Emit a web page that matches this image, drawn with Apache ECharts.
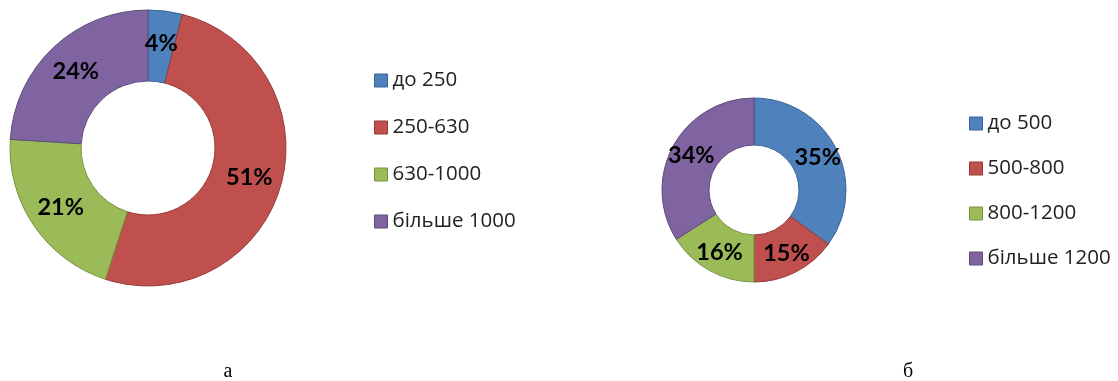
<!DOCTYPE html>
<html><head><meta charset="utf-8">
<script src="https://cdn.jsdelivr.net/npm/echarts@6/dist/echarts.min.js"></script>
<style>html,body{margin:0;padding:0;background:#fff}#c{width:1118px;height:381px}</style>
</head><body><div id="c"></div>
<script>
const catsA = ['до 250', '250-630', '630-1000', 'більше 1000'];
const valsA = [4, 51, 21, 24];
const catsB = ['до 500', '500-800', '800-1200', 'більше 1200'];
const valsB = [35, 15, 16, 34];
const captions = ['а', 'б'];
const fills = ['#4F81BD', '#C0504D', '#9BBB59', '#8064A2'];
const borders = ['#3A6496', '#943B39', '#76923F', '#5E4A7A'];

function mkData(cats, vals) {
  return cats.map((n, i) => ({name: n, value: vals[i],
    itemStyle: {color: fills[i], borderColor: borders[i], borderWidth: 1}}));
}
function legend(cats, left, top, gap) {
  return {orient: 'vertical', left: left, top: top, data: cats, icon: 'rect',
    itemWidth: 13, itemHeight: 13, itemGap: gap,
    itemStyle: {borderWidth: 1},
    textStyle: {fontFamily: 'Open Sans', fontSize: 20.5, color: '#222', lineHeight: 20, padding: [0,0,0,0]}};
}
const labelCfg = {show: true, position: 'inside', formatter: '{c}%',
  fontFamily: 'Lato', fontWeight: 'bold', fontSize: 23.5, color: '#000'};
const chart = echarts.init(document.getElementById('c'));
chart.setOption({
  animation: false,
  title: [
    {text: captions[0], left: 223, top: 357, textAlign: 'center',
      textStyle: {fontFamily: 'Liberation Serif', fontWeight: 'normal', fontSize: 20, color: '#000'}},
    {text: captions[1], left: 903, top: 357, textAlign: 'center',
      textStyle: {fontFamily: 'Liberation Serif', fontWeight: 'normal', fontSize: 20, color: '#000'}}
  ],
  legend: [legend(catsA, 369, 65, 26), legend(catsB, 964, 108, 24)],
  series: [
    {type: 'pie', center: [148, 148], radius: [67, 138], startAngle: 90, clockwise: true,
      label: labelCfg, labelLine: {show: false}, data: mkData(catsA, valsA)},
    {type: 'pie', center: [754, 190], radius: [45, 92], startAngle: 90, clockwise: true,
      label: labelCfg, labelLine: {show: false}, data: mkData(catsB, valsB)}
  ]
});
</script></body></html>
